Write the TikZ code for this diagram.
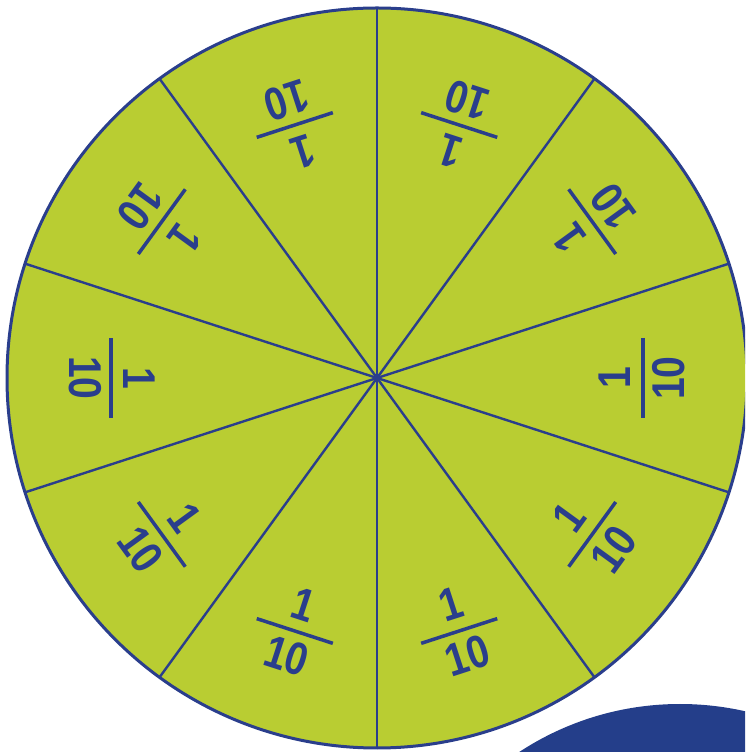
\documentclass[tikz,border=0pt]{standalone}
\usepackage{fontspec}
\setmainfont{Liberation Sans}
\usetikzlibrary{calc}
\definecolor{wheelgreen}{RGB}{185,205,50}
\definecolor{wheelblue}{RGB}{42,62,140}
\definecolor{darkblue}{RGB}{36,62,138}
\begin{document}
\begin{tikzpicture}[x=1pt,y=1pt,
  digit/.style={text=wheelblue, font=\bfseries\fontsize{46}{46}\selectfont, inner sep=0pt, anchor=center},
  spoke/.style={draw=wheelblue, line width=2.4pt},
  rim/.style={draw=wheelblue, line width=3pt},
  fracbar/.style={draw=wheelblue, line width=3.5pt}]
\useasboundingbox (0,0) rectangle (745,752);
\begin{scope}
\clip (0,0) rectangle (745,752);
\fill[darkblue] (680,-245) circle (293);
\coordinate (O) at (377,374);
\fill[wheelgreen] (O) circle (370);
\foreach \a in {90,54,...,-234} \draw[spoke] (O) -- ++(\a:370);
\draw[rim] (O) circle (370);
\foreach \t [count=\i] in {72,36,0,-36,-72,-108,-144,-180,-216,-252} {
  \node[digit, rotate=\t+90] (num\i) at ($(O)+(\t:238)$) {\scalebox{0.85}[1]{1}};
  \node[digit, rotate=\t+90] (den\i) at ($(O)+(\t:292)$) {\scalebox{0.85}[1]{10}};
  \coordinate (bc\i) at ($(O)+(\t:266)$);
  \draw[fracbar] ($(bc\i)+(\t+90:40)$) -- ($(bc\i)+(\t-90:40)$);
}
\end{scope}
\end{tikzpicture}
\end{document}
